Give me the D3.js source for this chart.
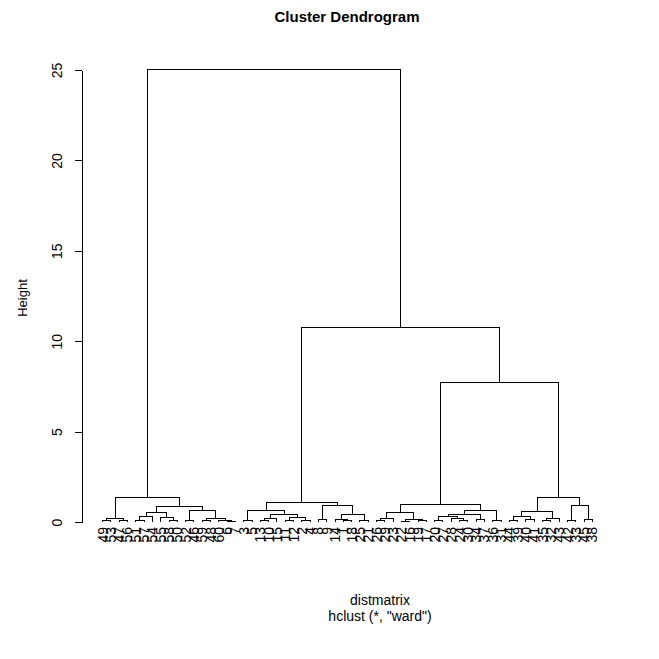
<!DOCTYPE html>
<html>
<head>
<meta charset="utf-8">
<style>
  body { margin: 0; background: #fff; }
  text { font-family: "Liberation Sans", Arial, sans-serif; fill: #000; }
  .links path { fill: none; stroke: #000; stroke-width: 1; }
  .axis path, .axis line { stroke: #000; }
</style>
<script src="https://d3js.org/d3.v7.min.js"></script>
</head>
<body>
<svg width="659" height="659"></svg>
<script>
// hclust merge matrix (R style): negative = observation, positive = earlier row (1-based)
var merges = [
    [-49, -53], [-47, -56], [1, 2], [-51, -57], [4, -54],          // 1-5
    [-58, -50], [-55, 6], [5, 7], [-52, -46], [-59, -48],          // 6-10
    [-6, -7], [-60, 11], [10, 12], [9, 13], [8, 14],               // 11-15
    [3, 15], [-3, -5], [-13, -10], [18, -15], [-11, -12],          // 16-20
    [-2, -4], [20, 21], [19, 22], [17, 23], [-8, -9],              // 21-25
    [-1, -18], [-14, 26], [-25, -21], [27, 28], [25, 29],          // 26-30
    [24, 30], [-26, -29], [32, -23], [-22, -16], [-19, -17],       // 31-35
    [34, 35], [33, 36], [-20, -27], [-24, -30], [-28, 39],         // 36-40
    [38, 40], [-34, -37], [41, 42], [-36, -31], [43, 44],          // 41-45
    [37, 45], [-44, -39], [-40, -41], [47, 48], [-35, -32],        // 46-50
    [50, -43], [49, 51], [-42, -33], [-45, -38], [53, 54],         // 51-55
    [52, 55], [46, 56], [31, 57], [16, 58]                         // 56-59
];
var heights = [
    0.07, 0.10, 0.22, 0.08, 0.28, 0.06, 0.25, 0.50, 0.10, 0.10,
    0.04, 0.10, 0.20, 0.66, 0.83, 1.33, 0.10, 0.10, 0.20, 0.06,
    0.10, 0.25, 0.40, 0.63, 0.12, 0.06, 0.15, 0.10, 0.39, 0.93,
    1.09, 0.10, 0.20, 0.05, 0.08, 0.15, 0.50, 0.10, 0.08, 0.20,
    0.30, 0.12, 0.40, 0.10, 0.65, 0.95, 0.10, 0.15, 0.30, 0.08,
    0.20, 0.60, 0.10, 0.15, 0.93, 1.38, 7.74, 10.78, 25.03
];
var yTicks = [0, 5, 10, 15, 20, 25];
var nObs = merges.length + 1;

var svg = d3.select("svg");

// leaf order from the tree
var order = [];
function walk(id) {
    if (id < 0) { order.push(-id); return; }
    walk(merges[id - 1][0]);
    walk(merges[id - 1][1]);
}
walk(merges.length);

var x = d3.scaleLinear()
    .domain([1 - 0.04 * (nObs - 1), nObs + 0.04 * (nObs - 1)])
    .range([83, 612]);
var y = d3.scaleLinear()
    .domain([0, 25])
    .range([522, 70]);

var leafPos = {};
order.forEach(function(obs, i) { leafPos[obs] = i + 1; });

var nodePos = [];
merges.forEach(function(m, i) {
    var a = m[0] < 0 ? leafPos[-m[0]] : nodePos[m[0] - 1];
    var b = m[1] < 0 ? leafPos[-m[1]] : nodePos[m[1] - 1];
    nodePos[i] = (a + b) / 2;
});
function posOf(id) { return id < 0 ? leafPos[-id] : nodePos[id - 1]; }
function heightOf(id) { return id < 0 ? 0 : heights[id - 1]; }

// links
svg.append("g")
    .attr("class", "links")
    .selectAll("path")
    .data(merges)
    .enter().append("path")
    .attr("d", function(m, i) {
        return "M" + x(posOf(m[0])) + "," + y(heightOf(m[0])) +
               "V" + y(heights[i]) + "H" + x(posOf(m[1])) + "V" + y(heightOf(m[1]));
    })
    .attr("shape-rendering", "crispEdges");

// leaf labels
svg.append("g")
    .selectAll("text")
    .data(order)
    .enter().append("text")
    .attr("transform", function(d) {
        return "translate(" + (x(leafPos[d]) + 5) + "," + (y(0) + 5) + ") rotate(-90)";
    })
    .attr("text-anchor", "end")
    .style("font-size", "14px")
    .text(function(d) { return d; });

// y axis
var yAxis = svg.append("g")
    .attr("class", "axis")
    .attr("transform", "translate(82,0)")
    .call(d3.axisLeft(y).tickValues(yTicks).tickSize(7).tickSizeOuter(0));
yAxis.selectAll("path, line").attr("shape-rendering", "crispEdges");
yAxis.selectAll("text")
    .attr("x", null).attr("dy", null)
    .attr("transform", "translate(-20,0) rotate(-90)")
    .attr("text-anchor", "middle")
    .style("font-size", "14px")
    .style("font-family", "Liberation Sans, Arial, sans-serif");

svg.append("text")
    .attr("transform", "translate(27,298) rotate(-90)")
    .attr("text-anchor", "middle")
    .style("font-size", "13px")
    .text("Height");

svg.append("text")
    .attr("x", 347).attr("y", 22)
    .attr("text-anchor", "middle")
    .style("font-size", "15px")
    .style("font-weight", "bold")
    .text("Cluster Dendrogram");

svg.append("text")
    .attr("x", 380).attr("y", 605)
    .attr("text-anchor", "middle")
    .style("font-size", "14px")
    .text("distmatrix");

svg.append("text")
    .attr("x", 380).attr("y", 621)
    .attr("text-anchor", "middle")
    .style("font-size", "14px")
    .text("hclust (*, \"ward\")");
</script>
</body>
</html>
